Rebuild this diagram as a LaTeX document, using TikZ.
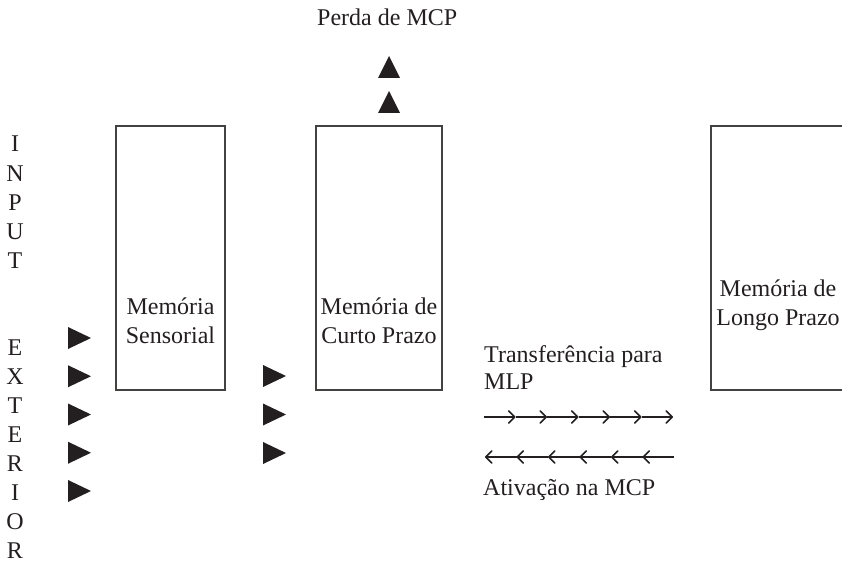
\documentclass[tikz,border=0pt]{standalone}
\usepackage{fontspec}
\setmainfont{Liberation Serif}
\usetikzlibrary{arrows.meta}
\definecolor{ink}{HTML}{231F20}
\tikzset{
  txt/.style={font=\fontsize{24}{29}\selectfont, text=ink, inner sep=0pt},
  memb/.style={draw=ink!85, line width=1.2pt, minimum height=264pt, inner sep=0pt},
  tri/.style={fill=ink},
  arr/.style={draw=ink, line width=1.5pt, -{Straight Barb[length=6pt,width=12pt,line width=1.5pt,round]}},
}
\begin{document}
\begin{tikzpicture}[x=1pt,y=-1pt]
\useasboundingbox (0,0) rectangle (842,564);
\clip (0,0) rectangle (842,564);

% boxes
\node[memb, minimum width=109pt] (ms) at (170.5,258) {};
\node[memb, minimum width=126pt] (mcp) at (379,258) {};
\node[memb, minimum width=135pt] (mlp) at (778.5,258) {};

% box texts (base anchor = last line baseline)
\node[txt, align=center, anchor=base] (mst) at (170.5,343) {Memória\\Sensorial};
\node[txt, align=center, anchor=base] (mcpt) at (379,343) {Memória de\\Curto Prazo};
\node[txt, align=center, anchor=base] (mlpt) at (778,325) {Memória de\\Longo Prazo};

% title
\node[txt, anchor=base west] (perda) at (317,26) {Perda de MCP};

% up triangles
\foreach \y in {67,102} \fill[tri] (378,\y+11) -- (389,\y-11) -- (400,\y+11) -- cycle;

% left letters
\foreach \l [count=\i from 0] in {I,N,P,U,T,,,E,X,T,E,R,I,O,R}
  \node[txt, anchor=base] (let\i) at (15,152+29*\i) {\l};

% right-pointing triangles
\foreach \y in {338,376.25,414.5,452.75,491}
  \fill[tri] (68,\y-11) -- (91,\y) -- (68,\y+11) -- cycle;
\foreach \y in {376,414.5,453}
  \fill[tri] (263,\y-11) -- (286,\y) -- (263,\y+11) -- cycle;

% transfer text
\node[txt, align=left, anchor=base west, font=\fontsize{24}{27}\selectfont] (transf) at (484,389) {Transferência para\\MLP};
\node[txt, anchor=base west] (ativ) at (483,495) {Ativação na MCP};

% arrow rows
\foreach \i in {0,...,5} {
  \coordinate (ra\i) at (484+31.5*\i,417);
  \coordinate (rb\i) at (484+31.5*\i+31.5,417);
  \draw[arr] (ra\i) -- (rb\i);
  \coordinate (la\i) at (485+31.5*\i+31.5,457);
  \coordinate (lb\i) at (485+31.5*\i,457);
  \draw[arr] (la\i) -- (lb\i);
}
\end{tikzpicture}
\end{document}
